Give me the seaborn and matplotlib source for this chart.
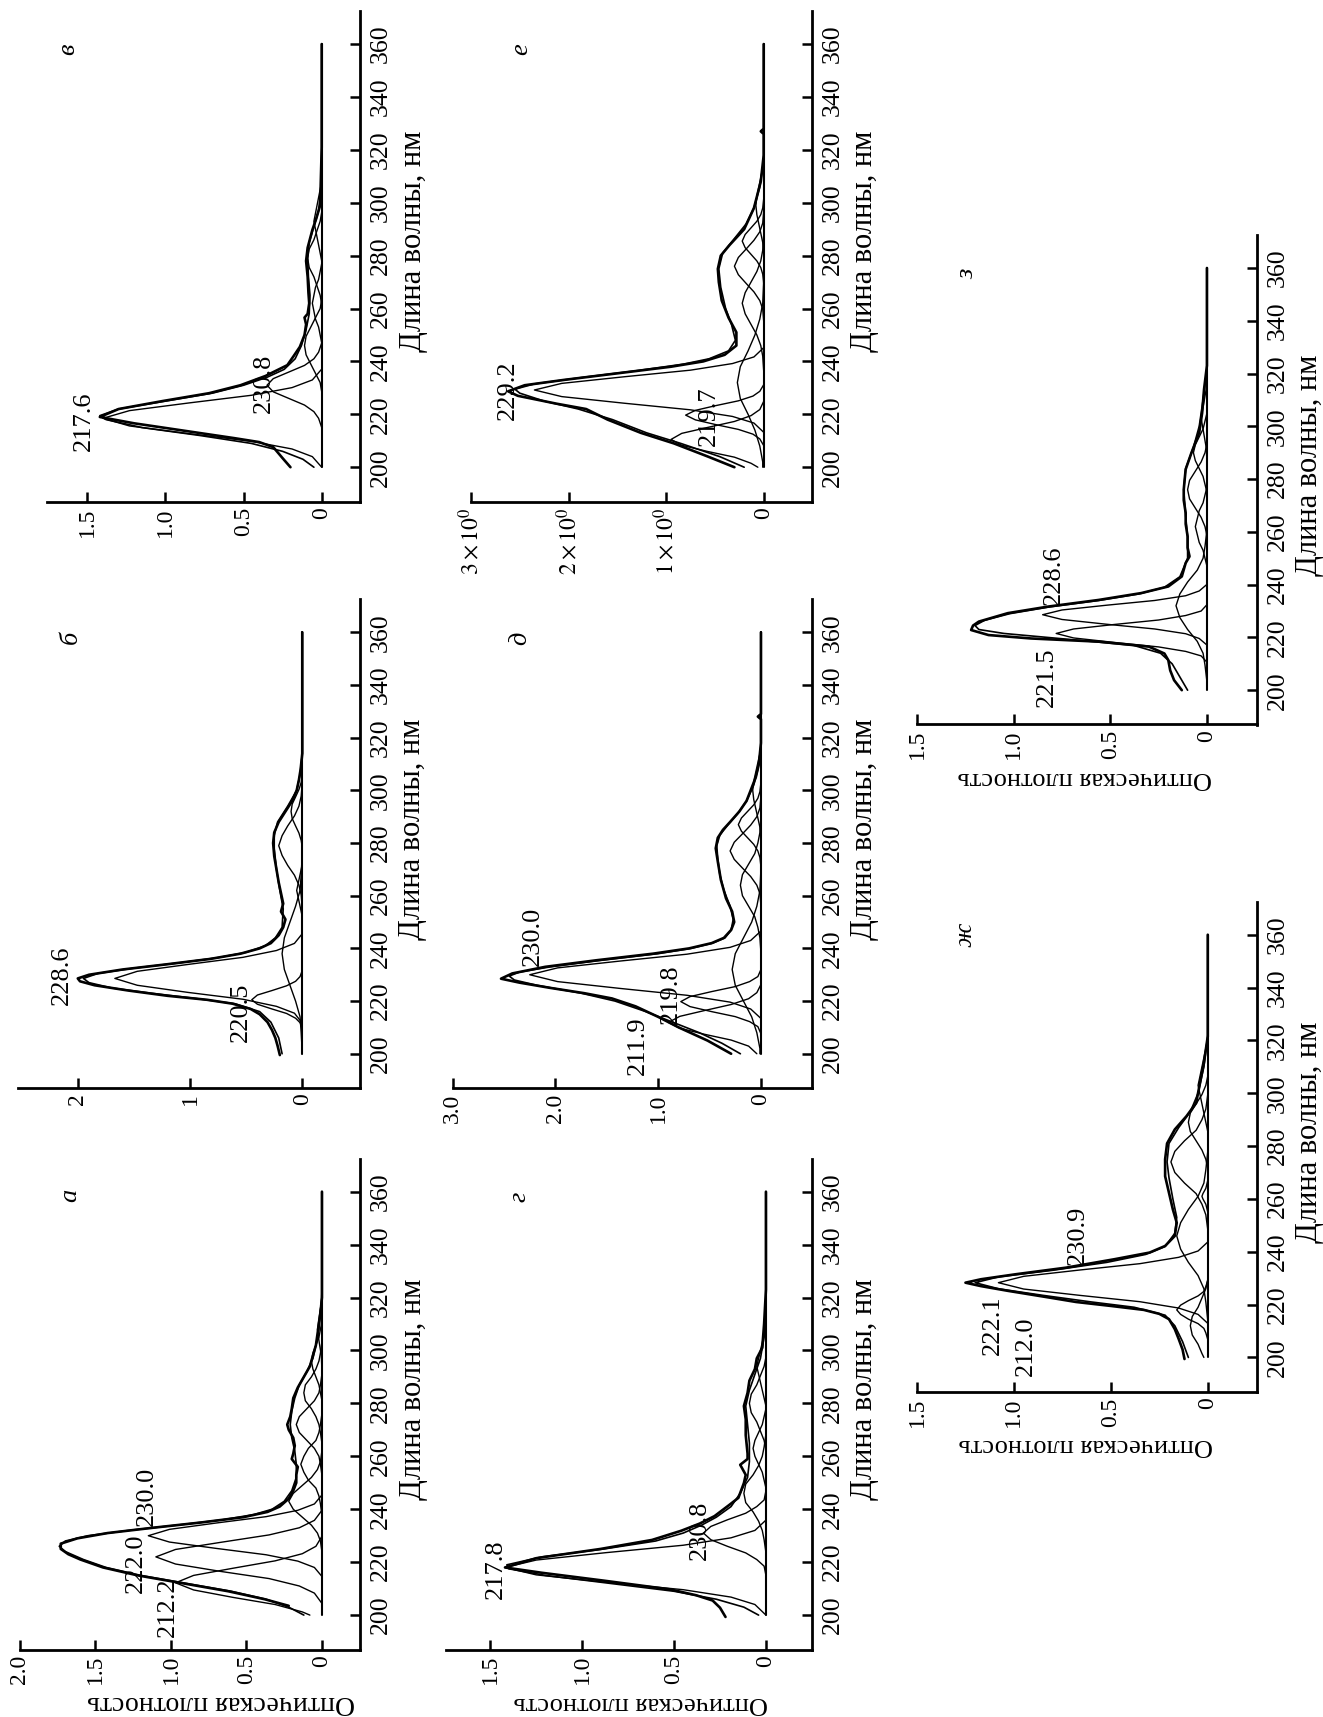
import matplotlib
matplotlib.use("Agg")
import matplotlib.pyplot as plt
import matplotlib.transforms as mtransforms
import seaborn as sns

sns.set_theme(style="white", rc={"axes.edgecolor": "black", "text.color": "black",
                                 "xtick.color": "black", "ytick.color": "black"})
plt.rcParams["font.family"] = ["Liberation Serif", "DejaVu Serif"]
plt.rcParams["mathtext.fontset"] = "stix"

FIG_W, FIG_H = 1323, 1717
WL_LIM = (187.0, 372.5)
WL_TICKS = [200, 220, 240, 260, 280, 300, 320, 340, 360]
BASE_W = [200, 360]
BASE_D = [0.0, 0.0]
AXIS_WL = "Длина волны, нм"
AXIS_OD = "Оптическая плотность"

# ---------------- panel а ----------------
a_exp_w = [203.5,206,209,212,215,218,221,223,225,227,229,231,233,235,237,239,241,244,247,250,253,256,259,261,264,267,270,272,275,278,282,286,290,294,298,302,306,310,314,320,340,360]
a_exp_d = [0.22,0.38,0.62,0.92,1.22,1.45,1.60,1.68,1.73,1.73,1.62,1.42,1.12,0.80,0.52,0.36,0.28,0.22,0.19,0.17,0.17,0.16,0.20,0.19,0.18,0.19,0.22,0.23,0.21,0.20,0.19,0.16,0.12,0.08,0.06,0.04,0.03,0.02,0.01,0.0,0.0,0.0]
a_fit_w = [200,203,206,209,212,215,218,221,224,226,228,230,232,234,236,238,240,243,247,252,257,262,267,272,277,282,287,292,297,302,308,315,320,360]
a_fit_d = [0.12,0.22,0.37,0.60,0.90,1.20,1.43,1.58,1.70,1.74,1.70,1.55,1.28,0.96,0.66,0.45,0.33,0.25,0.20,0.17,0.17,0.18,0.20,0.21,0.20,0.18,0.15,0.10,0.06,0.04,0.02,0.01,0.0,0.0]
a_comp_w = [
    [200,201.2,204.0,206.7,209.5,212.2,215.0,217.7,220.5,223.2,226.0,229.8],
    [204.4,208.3,211.0,213.8,216.5,219.3,222.0,224.8,227.5,230.3,233.0,235.8,239.6],
    [214.6,218.0,220.4,222.8,225.2,227.6,230.0,232.4,234.8,237.2,239.6,242.0,245.4],
    [223.8,228,231,234,237,240,243,246,249,252,255,258,262.2],
    [237.8,242,245,248,251,254,257,260,263,266,269,272,276.2],
    [252.8,257,260,263,266,269,272,275,278,281,284,287,291.2],
    [264.8,269,272,275,278,281,284,287,290,293,296,299,303.2],
    [276.8,281,284,287,290,293,296,299,302,305,308,311,315.2],
    [292,298,303,308,313,318,324],
]
a_comp_d = [
    [0.08,0.13,0.31,0.59,0.85,0.97,0.85,0.59,0.31,0.13,0.04,0.0],
    [0,0.05,0.15,0.35,0.67,0.97,1.10,0.97,0.67,0.35,0.15,0.05,0],
    [0,0.05,0.16,0.37,0.70,1.01,1.15,1.01,0.70,0.37,0.16,0.05,0],
    [0,0.01,0.03,0.07,0.13,0.19,0.22,0.19,0.13,0.07,0.03,0.01,0],
    [0,0.01,0.02,0.04,0.09,0.12,0.14,0.12,0.09,0.04,0.02,0.01,0],
    [0,0.01,0.02,0.05,0.10,0.15,0.17,0.15,0.10,0.05,0.02,0.01,0],
    [0,0.01,0.02,0.04,0.07,0.11,0.12,0.11,0.07,0.04,0.02,0.01,0],
    [0,0,0.01,0.02,0.04,0.06,0.07,0.06,0.04,0.02,0.01,0,0],
    [0,0.004,0.018,0.03,0.018,0.004,0],
]
a_peak_txt = ["212.2", "222.0", "230.0"]
a_peak_w = [203.0, 219.5, 245.0]
a_peak_d = [1.02, 1.23, 1.16]

# ---------------- panel б ----------------
b_exp_w = [199.5,203,206,209,212,215,217,219,220.5,222,224,226,227.5,228.6,230,232,234,236,238,240,242,245,248,251,254,257,261,265,270,275,280,284,288,292,296,300,304,308,314,360]
b_exp_d = [0.20,0.22,0.24,0.27,0.31,0.38,0.46,0.62,0.85,1.20,1.55,1.85,1.98,2.00,1.90,1.60,1.20,0.82,0.55,0.38,0.28,0.21,0.17,0.15,0.19,0.17,0.19,0.21,0.23,0.25,0.26,0.25,0.21,0.15,0.09,0.05,0.03,0.015,0.0,0.0]
b_fit_w = [200,206,212,216,219,221,223,225,227,228.6,230.5,232.5,234.5,236.5,238.5,241,244,248,255,262,270,278,283,288,294,300,306,314,360]
b_fit_d = [0.18,0.21,0.28,0.38,0.60,0.95,1.35,1.70,1.90,1.95,1.82,1.50,1.10,0.75,0.50,0.33,0.24,0.18,0.17,0.20,0.23,0.25,0.25,0.22,0.13,0.05,0.02,0.0,0.0]
b_comp_w = [
    [211.6,215.4,218.0,220.7,223.3,226.0,228.6,231.3,233.9,236.6,239.2,241.9,245.6],
    [209.3,211.8,213.5,215.3,217.0,218.8,220.5,222.3,224.0,225.8,227.5,229.3,231.7],
    [200,208,214,220,226,232,238,244,250,256,262,268,276.4],
    [255,260.3,264,267.8,271.5,275.3,279,282.8,286.5,290.3,294,297.8,303],
    [274.4,278.3,281,283.8,286.5,289.3,292,294.8,297.5,300.3,303,305.8,309.6],
    [249.2,252,254,256,258,260,262,264,266,268,270,272,274.8],
]
b_comp_d = [
    [0,0.07,0.23,0.53,1.02,1.47,1.67,1.47,1.02,0.53,0.23,0.07,0],
    [0,0.02,0.06,0.14,0.27,0.40,0.45,0.40,0.27,0.14,0.06,0.02,0],
    [0,0.01,0.02,0.06,0.11,0.16,0.18,0.16,0.11,0.06,0.02,0.01,0],
    [0,0.01,0.03,0.07,0.13,0.18,0.21,0.18,0.13,0.07,0.03,0.01,0],
    [0,0,0.01,0.03,0.06,0.09,0.10,0.09,0.06,0.03,0.01,0,0],
    [0,0,0.01,0.02,0.03,0.04,0.05,0.04,0.03,0.02,0.01,0,0],
]
b_peak_txt = ["228.6", "220.5"]
b_peak_w = [229.8, 215.9]
b_peak_d = [2.14, 0.55]

# ---------------- panel в ----------------
v_exp_w = [200,203.4,207.6,209.5,211,213.8,216.6,219,222,225,228,231,234.5,238.6,242,245.5,250,254,256.6,258,262,266,272,278,283,289.7,294,299,310,321,360]
v_exp_d = [0.20,0.25,0.31,0.40,0.56,0.88,1.20,1.42,1.30,1.02,0.72,0.52,0.36,0.22,0.18,0.14,0.11,0.10,0.11,0.09,0.08,0.085,0.09,0.10,0.09,0.06,0.035,0.01,0.005,0.0,0.0]
v_fit_w = [200,203,206,209,212,215,218,219.5,222,225,228,231,234,237,241,246,252,258,265,272,279,285,291,297,305,320,360]
v_fit_d = [0.05,0.12,0.25,0.45,0.78,1.15,1.38,1.42,1.30,1.00,0.70,0.50,0.35,0.24,0.17,0.13,0.10,0.08,0.075,0.085,0.09,0.08,0.05,0.02,0.005,0.0,0.0]
v_comp_w = [
    [200,204,206.9,209.8,212.7,215.6,218.5,221.4,224.3,227.2,230.1,233,237.1],
    [215,218.5,221,223.5,226,228.5,231,233.5,236,238.5,241,243.5,247],
    [223.6,228.5,232,235.5,239,242.5,246,249.5,253,256.5,260,263.5,268.4],
    [242.8,247,250,253,256,259,262,265,268,271,274,277,281.2],
    [256.6,261.5,265,268.5,272,275.5,279,282.5,286,289.5,293,296.5,301.4],
    [273.8,278,281,284,287,290,293,296,299,302,305,308,312.2],
]
v_comp_d = [
    [0,0.06,0.19,0.45,0.85,1.23,1.40,1.23,0.85,0.45,0.19,0.06,0],
    [0,0.02,0.05,0.11,0.21,0.31,0.35,0.31,0.21,0.11,0.05,0.02,0],
    [0,0,0.01,0.04,0.07,0.10,0.11,0.10,0.07,0.04,0.01,0,0],
    [0,0,0.01,0.02,0.04,0.05,0.06,0.05,0.04,0.02,0.01,0,0],
    [0,0,0.01,0.03,0.05,0.08,0.09,0.08,0.05,0.03,0.01,0,0],
    [0,0,0.01,0.02,0.03,0.04,0.05,0.04,0.03,0.02,0.01,0,0],
]
v_peak_txt = ["217.6", "230.8"]
v_peak_w = [217.2, 231.7]
v_peak_d = [1.52, 0.37]

# ---------------- panel г ----------------
g_exp_w = [199.3,202.8,205.5,207.5,209.7,213,216,218,221.5,225,228.4,231.9,234.6,237.4,241.6,244.3,249.9,253,256.8,259,261,268,274,279,284,288.6,293,297,301,310,323,360]
g_exp_d = [0.22,0.25,0.29,0.38,0.52,0.88,1.22,1.42,1.25,0.90,0.62,0.46,0.36,0.28,0.20,0.15,0.12,0.11,0.14,0.10,0.10,0.11,0.11,0.12,0.10,0.09,0.06,0.05,0.02,0.01,0.0,0.0]
g_fit_w = [200,203,206,209,212,215,217.5,219,222,225,228,231,234,237,241,246,252,258,265,272,279,285,291,297,305,320,360]
g_fit_d = [0.04,0.12,0.27,0.50,0.85,1.20,1.40,1.41,1.22,0.88,0.60,0.45,0.35,0.27,0.19,0.14,0.10,0.09,0.09,0.10,0.11,0.09,0.06,0.03,0.01,0.0,0.0]
g_comp_w = [
    [200,204,206.8,209.6,212.4,215.2,218,220.8,223.6,226.4,229.2,232,235.9],
    [215,218.5,221,223.5,226,228.5,231,233.5,236,238.5,241,243.5,247],
    [223.6,228.5,232,235.5,239,242.5,246,249.5,253,256.5,260,263.5,268.4],
    [243.8,248,251,254,257,260,263,266,269,272,275,278,282.2],
    [257.6,262.5,266,269.5,273,276.5,280,283.5,287,290.5,294,297.5,302.4],
    [274.8,279,282,285,288,291,294,297,300,303,306,309,313.2],
]
g_comp_d = [
    [0,0.06,0.19,0.45,0.87,1.25,1.42,1.25,0.87,0.45,0.19,0.06,0],
    [0,0.01,0.05,0.11,0.21,0.30,0.34,0.30,0.21,0.11,0.05,0.01,0],
    [0,0.01,0.02,0.04,0.07,0.11,0.12,0.11,0.07,0.04,0.02,0.01,0],
    [0,0,0.01,0.02,0.04,0.06,0.07,0.06,0.04,0.02,0.01,0,0],
    [0,0,0.01,0.03,0.05,0.08,0.09,0.08,0.05,0.03,0.01,0,0],
    [0,0,0.01,0.02,0.03,0.04,0.05,0.04,0.03,0.02,0.01,0,0],
]
g_peak_txt = ["217.8", "230.8"]
g_peak_w = [217.3, 231.9]
g_peak_d = [1.47, 0.36]

# ---------------- panel д ----------------
d_exp_w = [200,205,210,214,218,221,223,225,227,228.5,230.5,233,235.5,238,240,242,244,247,250,254,259,266,273,278,282,285,288,292,296,300,305,310,318,327,328,329,360]
d_exp_d = [0.29,0.52,0.80,1.00,1.22,1.45,1.72,2.05,2.35,2.53,2.42,2.10,1.60,1.05,0.70,0.48,0.36,0.29,0.26,0.28,0.34,0.39,0.42,0.44,0.42,0.37,0.30,0.21,0.14,0.10,0.05,0.02,0.0,0.0,0.03,0.0,0.0]
d_fit_w = [200,204,208,212,216,220,223,226,228,229.5,231,233,235.5,238,240,242,244,247,251,256,262,268,274,279,283,287,291,296,302,308,316,360]
d_fit_d = [0.20,0.38,0.60,0.86,1.12,1.42,1.75,2.18,2.40,2.45,2.35,2.05,1.55,1.00,0.68,0.47,0.35,0.29,0.27,0.30,0.36,0.40,0.42,0.43,0.40,0.32,0.23,0.14,0.07,0.03,0.0,0.0]
d_comp_w = [
    [200,202.9,205.2,207.4,209.7,211.9,214.2,216.4,218.7,220.9,223.2,226.3],
    [207.6,210.3,212.2,214.1,216.0,217.9,219.8,221.7,223.6,225.5,227.4,229.3,232.0],
    [213.4,217,219.6,222.2,224.8,227.4,230,232.6,235.2,237.8,240.4,243,246.6],
    [200,202,208,214,220,226,232,238,244,250,256,262,270.4],
    [238.4,244,248,252,256,260,264,268,272,276,280,284,289.6],
    [256.2,260.8,264,267.3,270.5,273.8,277,280.3,283.5,286.8,290,293.3,297.8],
    [271,274.5,277,279.5,282,284.5,287,289.5,292,294.5,297,299.5,303],
    [277.6,282.5,286,289.5,293,296.5,300,303.5,307,310.5,314,317.5,322.4],
]
d_comp_d = [
    [0.04,0.12,0.29,0.55,0.79,0.90,0.79,0.55,0.29,0.12,0.04,0],
    [0,0.03,0.11,0.25,0.48,0.69,0.78,0.69,0.48,0.25,0.11,0.03,0],
    [0,0.10,0.30,0.72,1.37,1.98,2.25,1.98,1.37,0.72,0.30,0.10,0],
    [0.01,0.01,0.04,0.09,0.17,0.25,0.28,0.25,0.17,0.09,0.04,0.01,0],
    [0,0.01,0.03,0.06,0.12,0.18,0.20,0.18,0.12,0.06,0.03,0.01,0],
    [0,0.01,0.04,0.10,0.18,0.26,0.30,0.26,0.18,0.10,0.04,0.01,0],
    [0,0.01,0.03,0.07,0.13,0.19,0.22,0.19,0.13,0.07,0.03,0.01,0],
    [0,0,0.01,0.03,0.05,0.07,0.08,0.07,0.05,0.03,0.01,0,0],
]
d_peak_txt = ["230.0", "219.8", "211.9"]
d_peak_w = [244.6, 222.5, 203.2]
d_peak_d = [2.22, 0.88, 1.20]

# ---------------- panel е ----------------
e_exp_w = [200,204,209,213,218,222,224,227,228.7,231,233,235.5,238,240,242.5,246,251,256.5,263,270,275,280,284,290,298,308,318,326,327,328,360]
e_exp_d = [0.30,0.57,0.92,1.26,1.60,1.82,2.12,2.52,2.62,2.45,2.05,1.50,0.95,0.62,0.40,0.28,0.28,0.36,0.43,0.46,0.47,0.44,0.35,0.20,0.10,0.03,0.0,0.0,0.03,0.0,0.0]
e_fit_w = [200,204,209,213,218,222,225,228,229.5,231.5,234,236.5,239,241,244,248,254,260,268,275,281,286,292,298,306,316,360]
e_fit_d = [0.20,0.45,0.85,1.20,1.55,1.90,2.25,2.50,2.55,2.35,1.85,1.30,0.82,0.56,0.36,0.29,0.33,0.39,0.44,0.46,0.42,0.31,0.18,0.10,0.04,0.0,0.0]
e_comp_w = [
    [200,201.5,203.8,206,208.3,210.5,212.8,215,217.3,219.5,221.8,224.9],
    [208.2,210.7,212.5,214.3,216.1,217.9,219.7,221.5,223.3,225.1,226.9,228.7,231.2],
    [213.2,216.7,219.2,221.7,224.2,226.7,229.2,231.7,234.2,236.7,239.2,241.7,245.2],
    [200,202,208,214,220,226,232,238,244,250,256,262,270.4],
    [236.4,242,246,250,254,258,262,266,270,274,278,282,287.6],
    [255.2,259.8,263,266.3,269.5,272.8,276,279.3,282.5,285.8,289,292.3,296.8],
    [269.5,273,275.5,278,280.5,283,285.5,288,290.5,293,295.5,298,301.5],
    [276.6,281.5,285,288.5,292,295.5,299,302.5,306,309.5,313,316.5,321.4],
]
e_comp_d = [
    [0.06,0.13,0.30,0.58,0.84,0.95,0.84,0.58,0.30,0.13,0.04,0],
    [0,0.04,0.11,0.26,0.49,0.70,0.80,0.70,0.49,0.26,0.11,0.04,0],
    [0,0.10,0.32,0.75,1.43,2.07,2.35,2.07,1.43,0.75,0.32,0.10,0],
    [0.01,0.01,0.04,0.09,0.16,0.24,0.27,0.24,0.16,0.09,0.04,0.01,0],
    [0,0.01,0.03,0.07,0.13,0.19,0.22,0.19,0.13,0.07,0.03,0.01,0],
    [0,0.01,0.04,0.10,0.18,0.26,0.30,0.26,0.18,0.10,0.04,0.01,0],
    [0,0.01,0.03,0.07,0.13,0.19,0.22,0.19,0.13,0.07,0.03,0.01,0],
    [0,0,0.01,0.03,0.05,0.07,0.08,0.07,0.05,0.03,0.01,0,0],
]
e_peak_txt = ["229.2", "219.7"]
e_peak_w = [229.0, 219.3]
e_peak_d = [2.62, 0.56]
e_tick_txt = ["0", r"$1\times10^{0}$", r"$2\times10^{0}$", r"$3\times10^{0}$"]

# ---------------- panel ж ----------------
zh_exp_w = [199.4,203,207,210.7,214.5,216.5,218,219.5,221,222.7,225.2,227,228.3,229.6,231.5,234,237.2,239.7,242.2,246,251,256,262.3,268.6,275,281,286.3,291.3,296.3,303.9,311.5,321.5,360]
zh_exp_d = [0.12,0.13,0.15,0.17,0.20,0.25,0.33,0.50,0.68,0.82,1.03,1.17,1.25,1.17,0.99,0.73,0.48,0.30,0.22,0.17,0.16,0.18,0.20,0.22,0.22,0.21,0.17,0.11,0.06,0.04,0.02,0.0,0.0]
zh_fit_w = [200,206,212,216,219,221,223.5,226,228.3,230.5,233,236,239,242,247,253,260,268,274,281,287,293,300,310,322,360]
zh_fit_d = [0.10,0.13,0.17,0.22,0.38,0.60,0.85,1.08,1.20,1.08,0.80,0.52,0.32,0.22,0.17,0.16,0.18,0.20,0.21,0.20,0.15,0.09,0.05,0.02,0.0,0.0]
zh_comp_w = [
    [200,201.5,205,208.5,212,215.5,219,222.5,226,229.5,234.4],
    [206.8,209.3,211,212.8,214.5,216.3,218,219.8,221.5,223.3,225,226.8,229.2],
    [212.9,216.3,218.7,221.1,223.5,225.9,228.3,230.7,233.1,235.5,237.9,240.3,243.7],
    [214,221,226,231,236,241,246,251,256,261,266,271,278],
    [248.4,254,258,262,266,270,274,278,282,286,290,294,299.6],
    [266.6,271.5,275,278.5,282,285.5,289,292.5,296,299.5,303,306.5,311.4],
    [280.6,285.5,289,292.5,296,299.5,303,306.5,310,313.5,317,320.5,325.4],
    [255,258,260,261,262,264,267],
]
zh_comp_d = [
    [0.02,0.03,0.05,0.08,0.09,0.08,0.05,0.03,0.01,0,0],
    [0,0.01,0.02,0.05,0.10,0.14,0.16,0.14,0.10,0.05,0.02,0.01,0],
    [0,0.05,0.15,0.35,0.66,0.95,1.08,0.95,0.66,0.35,0.15,0.05,0],
    [0,0.01,0.02,0.05,0.10,0.14,0.16,0.14,0.10,0.05,0.02,0.01,0],
    [0,0.01,0.03,0.06,0.12,0.17,0.19,0.17,0.12,0.06,0.03,0.01,0],
    [0,0,0.01,0.03,0.06,0.09,0.10,0.09,0.06,0.03,0.01,0,0],
    [0,0,0.01,0.02,0.03,0.04,0.05,0.04,0.03,0.02,0.01,0,0],
    [0,0.01,0.025,0.03,0.025,0.01,0],
]
zh_peak_txt = ["222.1", "212.0", "230.9"]
zh_peak_w = [212.4, 204.2, 246.3]
zh_peak_d = [1.11, 0.94, 0.67]

# ---------------- panel з ----------------
z_exp_w = [200,203.8,207.5,211.4,213.9,216.5,218.4,219.6,220.9,222.8,224.5,226,229.2,231.7,234.2,236.8,239.3,243.1,248.2,250.7,254,258.3,263,267.2,272,276,280,283.7,290,297.6,305,314,323,360]
z_exp_d = [0.13,0.17,0.19,0.20,0.22,0.30,0.56,0.91,1.13,1.22,1.21,1.18,1.03,0.82,0.56,0.34,0.20,0.13,0.11,0.09,0.10,0.10,0.11,0.11,0.12,0.12,0.115,0.11,0.08,0.04,0.025,0.015,0.0,0.0]
z_fit_w = [200,205,210,214,217,219.5,221.5,223,224.5,226.5,229,231.5,234,236.5,239,243,250,258,266,276,284,292,300,310,322,360]
z_fit_d = [0.10,0.14,0.18,0.24,0.38,0.75,1.05,1.18,1.20,1.15,1.02,0.82,0.56,0.35,0.22,0.14,0.10,0.10,0.11,0.12,0.11,0.07,0.04,0.02,0.0,0.0]
z_comp_w = [
    [210.6,213,214.7,216.4,218.1,219.8,221.5,223.2,224.9,226.6,228.3,230,232.4],
    [217.1,219.6,221.4,223.2,225,226.8,228.6,230.4,232.2,234,235.8,237.6,240.1],
    [203.2,209.5,214,218.5,223,227.5,232,236.5,241,245.5,250,254.5,260.8],
    [242.8,247,250,253,256,259,262,265,268,271,274,277,281.2],
    [253.6,258.5,262,265.5,269,272.5,276,279.5,283,286.5,290,293.5,298.4],
    [270.8,275,278,281,284,287,290,293,296,299,302,305,309.2],
    [287,292,298,303,308,314,319],
]
z_comp_d = [
    [0,0.03,0.11,0.25,0.48,0.69,0.78,0.69,0.48,0.25,0.11,0.03,0],
    [0,0.04,0.11,0.27,0.52,0.75,0.85,0.75,0.52,0.27,0.11,0.04,0],
    [0,0.01,0.02,0.05,0.10,0.14,0.16,0.14,0.10,0.05,0.02,0.01,0],
    [0,0,0.01,0.02,0.04,0.05,0.06,0.05,0.04,0.02,0.01,0,0],
    [0,0,0.01,0.03,0.06,0.09,0.10,0.09,0.06,0.03,0.01,0,0],
    [0,0,0.01,0.02,0.04,0.06,0.07,0.06,0.04,0.02,0.01,0,0],
    [0,0.004,0.018,0.03,0.018,0.004,0],
]
z_peak_txt = ["228.6", "221.5"]
z_peak_w = [243.7, 205.0]
z_peak_d = [0.79, 0.83]

# density ticks
t_15 = [0, 0.5, 1.0, 1.5]
t_15_txt = ["0", "0.5", "1.0", "1.5"]

panels = [
    dict(letter="а", rect=(20, 1158.6, 360, 1649.5), xlim=(2.0, -0.252),
         ticks=[0, 0.5, 1.0, 1.5, 2.0], tick_txt=["0", "0.5", "1.0", "1.5", "2.0"],
         exp=(a_exp_w, a_exp_d), fit=(a_fit_w, a_fit_d), comps=(a_comp_w, a_comp_d),
         peaks=(a_peak_txt, a_peak_w, a_peak_d), lpos=(1.67, 358.7), od=0.67, odsize=20),
    dict(letter="б", rect=(18.3, 599.4, 360, 1088), xlim=(2.53, -0.514),
         ticks=[0, 1, 2], tick_txt=["0", "1", "2"],
         exp=(b_exp_w, b_exp_d), fit=(b_fit_w, b_fit_d), comps=(b_comp_w, b_comp_d),
         peaks=(b_peak_txt, b_peak_w, b_peak_d), lpos=(2.06, 357.9), od=None),
    dict(letter="в", rect=(46.7, 11, 360, 501.6), xlim=(1.76, -0.245),
         ticks=t_15, tick_txt=t_15_txt,
         exp=(v_exp_w, v_exp_d), fit=(v_fit_w, v_fit_d), comps=(v_comp_w, v_comp_d),
         peaks=(v_peak_txt, v_peak_w, v_peak_d), lpos=(1.62, 357.9), od=None),
    dict(letter="г", rect=(446, 1158.6, 811.7, 1649.5), xlim=(1.741, -0.249),
         ticks=t_15, tick_txt=t_15_txt,
         exp=(g_exp_w, g_exp_d), fit=(g_fit_w, g_fit_d), comps=(g_comp_w, g_comp_d),
         peaks=(g_peak_txt, g_peak_w, g_peak_d), lpos=(1.34, 357.9), od=0.68, odsize=19),
    dict(letter="д", rect=(452.7, 599.4, 811.7, 1088), xlim=(3.0, -0.494),
         ticks=[0, 1, 2, 3], tick_txt=["0", "1.0", "2.0", "3.0"],
         exp=(d_exp_w, d_exp_d), fit=(d_fit_w, d_fit_d), comps=(d_comp_w, d_comp_d),
         peaks=(d_peak_txt, d_peak_w, d_peak_d), lpos=(2.34, 357.9), od=None),
    dict(letter="е", rect=(471, 11, 811.7, 501.6), xlim=(3.0, -0.492),
         ticks=[0, 1, 2, 3], tick_txt=e_tick_txt,
         exp=(e_exp_w, e_exp_d), fit=(e_fit_w, e_fit_d), comps=(e_comp_w, e_comp_d),
         peaks=(e_peak_txt, e_peak_w, e_peak_d), lpos=(2.49, 358.0), od=None),
    dict(letter="ж", rect=(917, 901.7, 1257, 1391.8), xlim=(1.5, -0.254),
         ticks=t_15, tick_txt=t_15_txt,
         exp=(zh_exp_w, zh_exp_d), fit=(zh_fit_w, zh_fit_d), comps=(zh_comp_w, zh_comp_d),
         peaks=(zh_peak_txt, zh_peak_w, zh_peak_d), lpos=(1.25, 360.0), od=0.63, odsize=19),
    dict(letter="з", rect=(917, 235, 1257, 724.5), xlim=(1.5, -0.259),
         ticks=t_15, tick_txt=t_15_txt,
         exp=(z_exp_w, z_exp_d), fit=(z_fit_w, z_fit_d), comps=(z_comp_w, z_comp_d),
         peaks=(z_peak_txt, z_peak_w, z_peak_d), lpos=(1.24, 357.8), od=0.63, odsize=19),
]

fig = plt.figure(figsize=(FIG_W / 100, FIG_H / 100), dpi=100)
fig.patch.set_facecolor("white")

for p in panels:
    x0, y0, x1, y1 = p["rect"]
    wpx, hpx = x1 - x0, y1 - y0
    ax = fig.add_axes([x0 / FIG_W, 1 - y1 / FIG_H, wpx / FIG_W, hpx / FIG_H])
    ax.set_facecolor("white")

    def draw(w, d, lw):
        sns.lineplot(x=d, y=w, ax=ax, color="black", linewidth=lw,
                     sort=False, estimator=None)

    draw(BASE_W, BASE_D, 1.5)
    cw, cd = p["comps"]
    for w, d in zip(cw, cd):
        draw(w, d, 1.0)
    draw(*p["fit"], 1.2)
    draw(*p["exp"], 1.9)

    ax.set_xlim(p["xlim"])
    ax.set_ylim(WL_LIM)
    ax.set_xlabel("")
    ax.set_ylabel("")
    ax.grid(False)
    for s in ("top", "left"):
        ax.spines[s].set_visible(False)
    for s in ("right", "bottom"):
        ax.spines[s].set_linewidth(2.0)
        ax.spines[s].set_color("black")

    ax.set_xticks(p["ticks"])
    ax.set_xticklabels(p["tick_txt"])
    ax.set_yticks(WL_TICKS)
    ax.set_yticklabels([str(t) for t in WL_TICKS])
    ax.yaxis.tick_right()
    ax.tick_params(axis="y", which="both", direction="in", length=7, width=1.8,
                   pad=7, labelsize=18.5, labelrotation=90, right=True, left=False,
                   labelright=True, labelleft=False)
    ax.tick_params(axis="x", which="both", direction="in", length=7, width=1.8,
                   pad=4, labelsize=17, labelrotation=90, bottom=True, top=False)
    for lab in ax.get_yticklabels():
        lab.set_va("center")

    txt, pw, pd_ = p["peaks"]
    for t, w, d in zip(txt, pw, pd_):
        ax.text(d, w, t, rotation=90, ha="center", va="center", fontsize=19)
    ax.text(p["lpos"][0], p["lpos"][1], p["letter"], rotation=90, ha="center",
            va="center", fontsize=19, style="italic")

    ax.text(1 + 53.0 / wpx, 0.53, AXIS_WL, transform=ax.transAxes, rotation=90,
            ha="center", va="center", fontsize=22)
    if p["od"] is not None:
        tr = mtransforms.blended_transform_factory(ax.transData, ax.transAxes)
        ax.text(p["od"], -53.0 / hpx, AXIS_OD, transform=tr, rotation=180,
                ha="center", va="center", fontsize=p["odsize"])

fig.savefig("out.png", dpi=100, facecolor="white")
